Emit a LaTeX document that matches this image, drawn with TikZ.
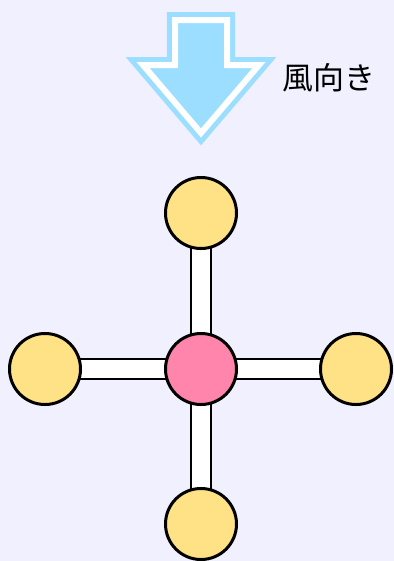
\documentclass[tikz,border=0pt]{standalone}
\usepackage{fontspec}
\newfontfamily\cjk{Noto Sans CJK JP}
\definecolor{bgviolet}{HTML}{F0F0FE}
\definecolor{windblue}{HTML}{9CDEFF}
\definecolor{jointyellow}{HTML}{FFE285}
\definecolor{hubpink}{HTML}{FF85AD}
\pgfdeclarelayer{back}
\pgfdeclarelayer{bars}
\pgfsetlayers{back,bars,main}
\tikzset{
  joint/.style={circle, draw=black, line width=0.075cm, minimum size=1.775cm, inner sep=0pt, fill=jointyellow},
  hub/.style={joint, fill=hubpink},
  bar/.style={draw=black, line width=0.06cm, double=white, double distance=0.43cm},
}
\begin{document}
\begin{tikzpicture}[x=0.025cm, y=-0.025cm]
    % Background
    \begin{pgfonlayer}{back}
        \fill[bgviolet] (0,0) rectangle (394,561);
    \end{pgfonlayer}
    \useasboundingbox (0,0) rectangle (394,561);

    % Wind arrow
    \draw[draw=windblue, fill=windblue, line width=0.125cm, double=white, double distance=0.15cm]
        (175,20) -- (227,20) -- (227,65) -- (259,65) -- (201,133) -- (143,65) -- (175,65) -- cycle;
    \node[font=\cjk\fontsize{22}{22}\selectfont] (wind) at (329,78) {風向き};

    % Joints
    \node[hub] (hub) at (201,369) {};
    \node[joint] (top) at (201,213) {};
    \node[joint] (bottom) at (201,524) {};
    \node[joint] (left) at (45,369) {};
    \node[joint] (right) at (356,369) {};

    % Bars
    \begin{pgfonlayer}{bars}
        \draw[bar] (top.center) -- (bottom.center);
        \draw[bar] (left.center) -- (right.center);
    \end{pgfonlayer}
\end{tikzpicture}
\end{document}
